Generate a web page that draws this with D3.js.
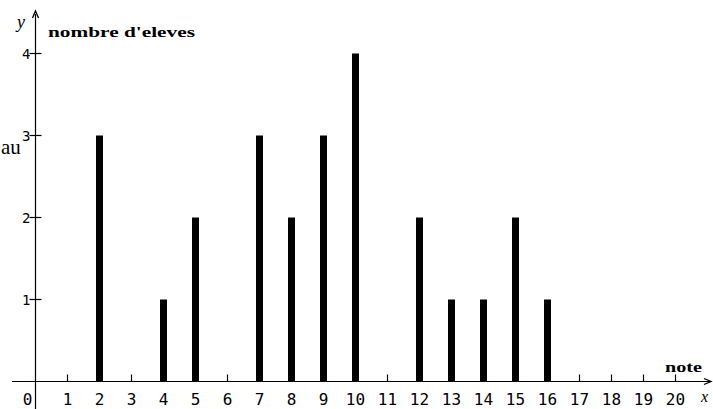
<!DOCTYPE html>
<html><head><meta charset="utf-8">
<script src="https://cdn.jsdelivr.net/npm/d3@7"></script>
<style>body{margin:0;background:#fff}svg{display:block}</style>
</head><body>
<svg id="c" width="713" height="409"></svg>
<script>
const notes = [2, 4, 5, 7, 8, 9, 10, 12, 13, 14, 15, 16];
const counts = [3, 1, 2, 3, 2, 3, 4, 2, 1, 1, 2, 1];
const xTicks = d3.range(0, 21);
const yTicks = [1, 2, 3, 4];
const yTitle = "nombre d'eleves";
const xTitle = "note";

const svg = d3.select("#c");
const x = d3.scaleLinear().domain([0, 20]).range([35.5, 675.5]);
const y = d3.scaleLinear().domain([0, 4]).range([381.5, 53.5]);
const x0 = x(0), y0 = y(0);

// axes lines
svg.append("line").attr("x1", 12).attr("x2", 710).attr("y1", y0).attr("y2", y0)
  .attr("stroke", "#000").attr("stroke-width", 1.2);
svg.append("line").attr("x1", x0).attr("x2", x0).attr("y1", 14).attr("y2", 409)
  .attr("stroke", "#000").attr("stroke-width", 1.2);
// arrows
svg.append("path").attr("d", `M${x0-3},${18} L${x0},${11} L${x0+3},${18}`).attr("fill", "none").attr("stroke", "#000").attr("stroke-width", 1.3);
svg.append("path").attr("d", `M704,${y0-3} L711,${y0} L704,${y0+3}`).attr("fill", "none").attr("stroke", "#000").attr("stroke-width", 1.3);

// x ticks
svg.selectAll("line.xt").data(xTicks.filter(d => d > 0)).join("line").attr("class", "xt")
  .attr("x1", d => x(d)).attr("x2", d => x(d)).attr("y1", y0 - 7).attr("y2", y0)
  .attr("stroke", "#000").attr("stroke-width", 1.2);
svg.selectAll("text.xl").data(xTicks).join("text").attr("class", "xl")
  .attr("x", d => d === 0 ? x(d) - 8 : x(d)).attr("y", 405)
  .attr("text-anchor", "middle")
  .attr("font-family", "DejaVu Sans Mono, monospace").attr("font-size", 16)
  .text(d => d);

// y ticks
svg.selectAll("line.yt").data(yTicks).join("line").attr("class", "yt")
  .attr("x1", x0 - 6).attr("x2", x0 + 6).attr("y1", d => y(d)).attr("y2", d => y(d))
  .attr("stroke", "#000").attr("stroke-width", 1.2);
svg.selectAll("text.yl").data(yTicks).join("text").attr("class", "yl")
  .attr("x", x0 - 5).attr("y", d => y(d) + 5)
  .attr("text-anchor", "end")
  .attr("font-family", "DejaVu Sans Mono, monospace").attr("font-size", 14)
  .text(d => d);

// bars
svg.selectAll("rect.bar").data(notes).join("rect").attr("class", "bar")
  .attr("x", d => x(d) - 3.5).attr("width", 7)
  .attr("y", (d, i) => y(counts[i])).attr("height", (d, i) => y0 - y(counts[i]))
  .attr("fill", "#000");

// titles
svg.append("text").attr("x", 48).attr("y", 37)
  .attr("font-family", "Liberation Serif, serif").attr("font-weight", "bold").attr("font-size", 15)
  .attr("textLength", 147).attr("lengthAdjust", "spacingAndGlyphs").text(yTitle);
svg.append("text").attr("x", 665).attr("y", 372)
  .attr("font-family", "Liberation Serif, serif").attr("font-weight", "bold").attr("font-size", 15)
  .attr("textLength", 37).attr("lengthAdjust", "spacingAndGlyphs").text(xTitle);
svg.append("text").attr("x", 701).attr("y", 402)
  .attr("font-family", "Liberation Serif, serif").attr("font-style", "italic").attr("font-size", 16).text("x");
svg.append("text").attr("x", 17).attr("y", 28)
  .attr("font-family", "Liberation Serif, serif").attr("font-style", "italic").attr("font-size", 18).text("y");
svg.append("text").attr("x", 1).attr("y", 154)
  .attr("font-family", "Liberation Serif, serif").attr("font-size", 21).text("au");
</script>
</body></html>
